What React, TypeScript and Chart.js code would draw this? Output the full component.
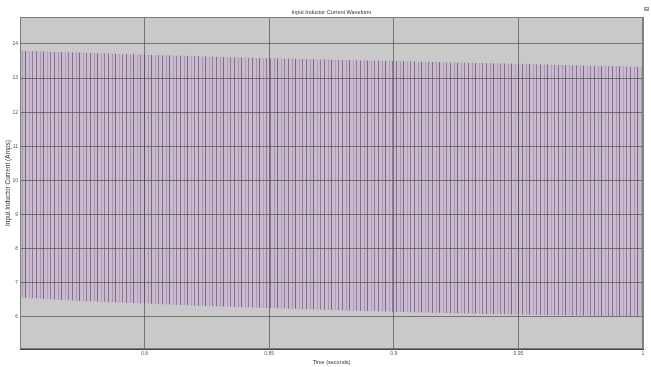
import React, { useEffect, useRef } from "react";
import { Chart, registerables } from "chart.js";

Chart.register(...registerables);

// Sample times (seconds) along the envelope of the inductor current ripple
const times = [0.75, 0.775, 0.8, 0.825, 0.85, 0.875, 0.9, 0.925, 0.95, 0.975, 1.0];
// Peak current (Amps) of the ripple at each time
const peakCurrent = [13.8, 13.74, 13.68, 13.63, 13.58, 13.54, 13.5, 13.46, 13.42, 13.37, 13.33];
// Valley current (Amps) of the ripple at each time
const valleyCurrent = [6.57, 6.47, 6.39, 6.32, 6.26, 6.2, 6.15, 6.11, 6.07, 6.04, 6.01];
// Tick labels
const xTicks = [0.8, 0.85, 0.9, 0.95, 1];
const yTicks = [6, 7, 8, 9, 10, 11, 12, 13, 14];

const TITLE = "Input Inductor Current Waveform";
const X_TITLE = "Time (seconds)";
const Y_TITLE = "Input Inductor Current (Amps)";
const FONT = "'Liberation Sans', Arial, sans-serif";

function makeStripePattern(ctx: CanvasRenderingContext2D) {
  const c = document.createElement("canvas");
  c.width = 18;
  c.height = 4;
  const p = c.getContext("2d")!;
  p.fillStyle = "#c9bacf";
  p.fillRect(0, 0, 18, 4);
  const stripes: [number, string][] = [
    [0, "#85708c"],
    [4, "#a795ad"],
    [7, "#7c6784"],
    [11, "#b09fb6"],
    [14, "#907b97"],
  ];
  for (const [x, col] of stripes) {
    p.fillStyle = col;
    p.fillRect(x, 0, 1, 4);
  }
  return ctx.createPattern(c, "repeat")!;
}

const backdrop = {
  id: "backdrop",
  beforeDraw(chart: any) {
    const { ctx, chartArea: a } = chart;
    ctx.save();
    ctx.fillStyle = "#ffffff";
    ctx.fillRect(0, 0, chart.width, chart.height);
    ctx.fillStyle = "#c9c9c9";
    ctx.fillRect(a.left, a.top, a.right - a.left, a.bottom - a.top);
    ctx.restore();
  },
  afterDraw(chart: any) {
    const { ctx, chartArea: a } = chart;
    ctx.save();
    ctx.strokeStyle = "#7a7a7a";
    ctx.lineWidth = 1;
    ctx.strokeRect(a.left + 0.5, a.top + 0.5, a.right - a.left - 1, a.bottom - a.top - 1);
    ctx.fillStyle = "#333333";
    ctx.font = `5.5px ${FONT}`;
    ctx.textAlign = "center";
    ctx.textBaseline = "middle";
    ctx.fillText(TITLE, (a.left + a.right) / 2, 12);
    // small window icon top-right
    ctx.fillStyle = "#9a9a9a";
    ctx.fillRect(644, 7, 5, 4);
    ctx.fillStyle = "#e0e0e0";
    ctx.fillRect(645, 8, 3, 1);
    ctx.restore();
  },
};

export default function App() {
  const ref = useRef<HTMLCanvasElement | null>(null);
  useEffect(() => {
    const canvas = ref.current!;
    const ctx = canvas.getContext("2d")!;
    const pattern = makeStripePattern(ctx);
    const chart = new Chart(ctx, {
      type: "line",
      data: {
        datasets: [
          {
            label: "Peak",
            data: times.map((t, i) => ({ x: t, y: peakCurrent[i] })),
            borderWidth: 0,
            borderColor: "rgba(0,0,0,0)",
            pointRadius: 0,
            fill: "+1",
            backgroundColor: pattern as any,
          },
          {
            label: "Valley",
            data: times.map((t, i) => ({ x: t, y: valleyCurrent[i] })),
            borderWidth: 0,
            borderColor: "rgba(0,0,0,0)",
            pointRadius: 0,
            fill: false,
          },
        ],
      },
      plugins: [backdrop],
      options: {
        responsive: false,
        animation: false,
        layout: { padding: { top: 17, right: 8, left: 0, bottom: 0 } },
        plugins: {
          legend: { display: false },
          title: { display: false },
          tooltip: { enabled: false },
        },
        scales: {
          x: {
            type: "linear",
            min: 0.75,
            max: 1.0,
            afterBuildTicks: (s: any) => {
              s.ticks = xTicks.map((v) => ({ value: v }));
            },
            afterFit: (s: any) => {
              s.height = 18;
            },
            ticks: {
              autoSkip: false,
              maxRotation: 0,
              padding: 2,
              color: "#555555",
              font: { size: 5, family: FONT },
              callback: (v: any) => String(v),
            },
            grid: {
              color: "rgba(70,70,70,0.65)",
              lineWidth: 1,
              drawTicks: false,
              z: 1,
            },
            border: { display: true, color: "#444444", width: 1, z: 2 },
            title: {
              display: true,
              text: X_TITLE,
              color: "#333333",
              font: { size: 5.5, family: FONT },
              padding: { top: 0, bottom: 1.5 },
            },
          },
          y: {
            type: "linear",
            min: 5.06,
            max: 14.79,
            afterBuildTicks: (s: any) => {
              s.ticks = yTicks.map((v) => ({ value: v }));
            },
            afterFit: (s: any) => {
              s.width = 20;
            },
            ticks: {
              autoSkip: false,
              padding: 2,
              color: "#555555",
              font: { size: 5, family: FONT },
              callback: (v: any) => String(v),
            },
            grid: {
              color: "rgba(70,70,70,0.65)",
              lineWidth: 1,
              drawTicks: false,
              z: 1,
            },
            border: { display: true, color: "#444444", width: 1, z: 2 },
            title: {
              display: true,
              text: Y_TITLE,
              color: "#333333",
              font: { size: 6.5, family: FONT },
              padding: { top: 4, bottom: 0 },
            },
          },
        },
      },
    });
    return () => chart.destroy();
  }, []);
  return (
    <div style={{ position: "fixed", left: 0, top: 0, width: 651, height: 367, background: "#fff" }}>
      <canvas ref={ref} width={651} height={367} style={{ display: "block" }} />
    </div>
  );
}
